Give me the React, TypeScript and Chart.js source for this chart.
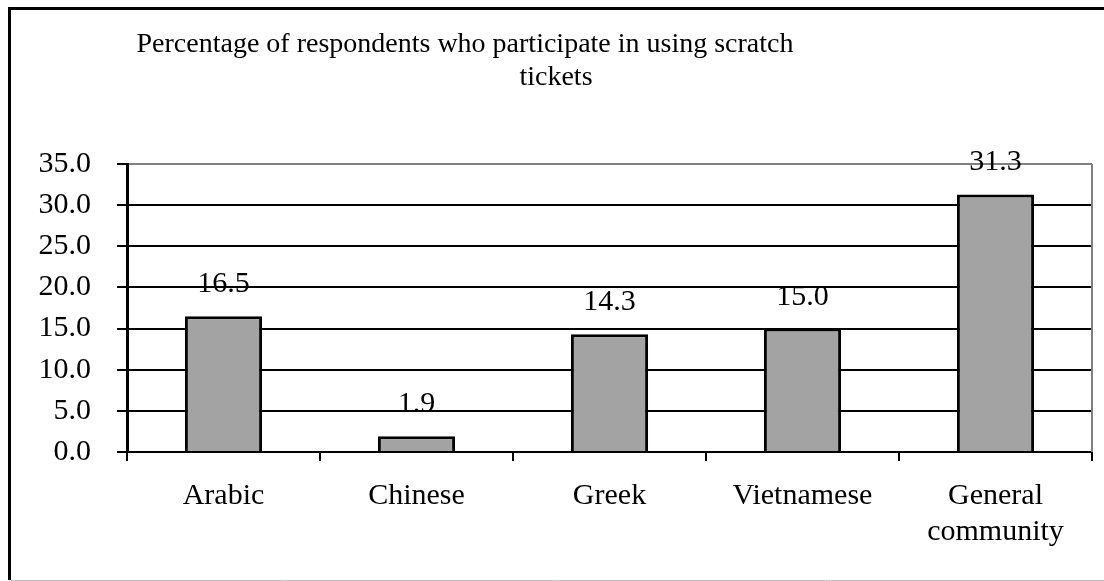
import React, { useEffect, useRef } from 'react';
import { Chart, registerables } from 'chart.js';

Chart.register(...registerables);

const categories: (string | string[])[] = ['Arabic', 'Chinese', 'Greek', 'Vietnamese', ['General', 'community']];
const values: number[] = [16.5, 1.9, 14.3, 15.0, 31.3];
const titleLines: string[] = ['Percentage of respondents who participate in using scratch', 'tickets'];
const yMin = 0;
const yMax = 35;
const yStep = 5;

const FONT = "'Liberation Serif', 'Times New Roman', serif";
const FONT_SIZE = 30;
const TITLE_SIZE = 28;

const framePlugin = {
  id: 'frame',
  beforeDraw(chart: any) {
    const ctx = chart.ctx;
    ctx.save();
    ctx.fillStyle = '#ffffff';
    ctx.fillRect(0, 0, chart.width, chart.height);
    ctx.restore();
  },
  afterDraw(chart: any) {
    const ctx = chart.ctx;
    ctx.save();
    ctx.strokeStyle = '#000000';
    ctx.lineWidth = 3;
    ctx.beginPath();
    ctx.moveTo(9.5, 580);
    ctx.lineTo(9.5, 8.5);
    ctx.lineTo(chart.width, 8.5);
    ctx.stroke();
    ctx.strokeStyle = '#c0c0c0';
    ctx.lineWidth = 1;
    ctx.beginPath();
    ctx.moveTo(11, 580.5);
    ctx.lineTo(chart.width, 580.5);
    ctx.stroke();
    ctx.restore();
  },
};

const titlePlugin = {
  id: 'customTitle',
  afterDraw(chart: any) {
    const ctx = chart.ctx;
    ctx.save();
    ctx.fillStyle = '#000000';
    ctx.font = `${TITLE_SIZE}px ${FONT}`;
    ctx.textAlign = 'center';
    ctx.textBaseline = 'alphabetic';
    ctx.fillText(titleLines[0], 465, 52);
    ctx.fillText(titleLines[1], 556, 85);
    ctx.restore();
  },
};

const plotBorderPlugin = {
  id: 'plotBorder',
  beforeDatasetsDraw(chart: any) {
    const { ctx, chartArea } = chart;
    ctx.save();
    ctx.strokeStyle = '#808080';
    ctx.lineWidth = 2;
    ctx.beginPath();
    ctx.moveTo(chartArea.right, chartArea.top);
    ctx.lineTo(chartArea.right, chartArea.bottom);
    ctx.stroke();
    ctx.restore();
  },
};

const dataLabelPlugin = {
  id: 'dataLabels',
  afterDatasetsDraw(chart: any) {
    const ctx = chart.ctx;
    const meta = chart.getDatasetMeta(0);
    const data = chart.data.datasets[0].data as number[];
    ctx.save();
    ctx.fillStyle = '#000000';
    ctx.font = `${FONT_SIZE}px ${FONT}`;
    ctx.textAlign = 'center';
    ctx.textBaseline = 'alphabetic';
    meta.data.forEach((bar: any, i: number) => {
      ctx.fillText(data[i].toFixed(1), bar.x, bar.y - 24);
    });
    ctx.restore();
  },
};

export default function App() {
  const canvasRef = useRef<HTMLCanvasElement | null>(null);

  useEffect(() => {
    if (!canvasRef.current) return;
    const chart = new Chart(canvasRef.current, {
      type: 'bar',
      data: {
        labels: categories,
        datasets: [
          {
            data: values,
            backgroundColor: '#a3a3a3',
            borderColor: '#000000',
            borderWidth: 3,
            barPercentage: 0.4,
            categoryPercentage: 1.0,
          },
        ],
      },
      options: {
        responsive: false,
        animation: false,
        devicePixelRatio: 1,
        layout: { padding: { left: 10, top: 164, right: 12, bottom: 0 } },
        plugins: {
          legend: { display: false },
          tooltip: { enabled: false },
          title: { display: false },
        },
        scales: {
          x: {
            offset: true,
            afterFit: (scale: any) => {
              scale.height = 129;
            },
            grid: {
              offset: true,
              drawOnChartArea: false,
              drawTicks: true,
              tickLength: 9,
              tickColor: '#000000',
              tickWidth: 2,
              color: '#000000',
              lineWidth: 2,
            },
            border: { display: true, color: '#000000', width: 2 },
            ticks: {
              color: '#000000',
              font: { family: FONT, size: FONT_SIZE, lineHeight: 1.17 },
              padding: 18,
              maxRotation: 0,
              autoSkip: false,
            },
          },
          y: {
            min: yMin,
            max: yMax,
            afterFit: (scale: any) => {
              scale.width = 117;
            },
            grid: {
              color: (c: any) => (c.tick && c.tick.value === yMax ? '#808080' : '#000000'),
              lineWidth: 2,
              drawTicks: true,
              tickLength: 10,
              tickColor: '#000000',
              tickWidth: 2,
            },
            border: { display: true, color: '#000000', width: 3 },
            ticks: {
              stepSize: yStep,
              color: '#000000',
              font: { family: FONT, size: FONT_SIZE },
              padding: 26,
              callback: (v: any) => Number(v).toFixed(1),
            },
          },
        },
      },
      plugins: [framePlugin, plotBorderPlugin, dataLabelPlugin, titlePlugin],
    });
    return () => chart.destroy();
  }, []);

  return (
    <div style={{ position: 'absolute', left: 0, top: 0, width: 1104, height: 581, overflow: 'hidden' }}>
      <canvas ref={canvasRef} width={1104} height={581} style={{ display: 'block' }} />
    </div>
  );
}
